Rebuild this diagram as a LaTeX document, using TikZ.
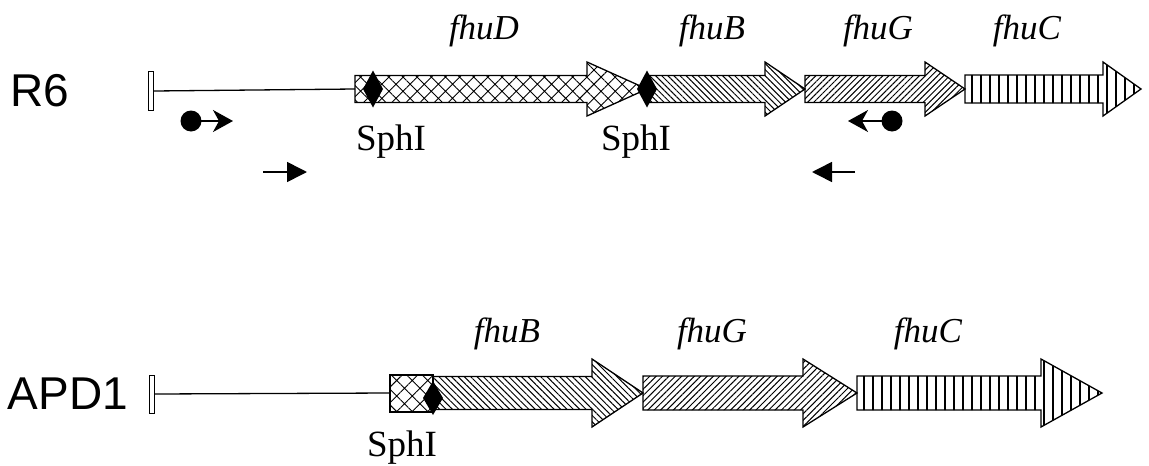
\documentclass[tikz,border=0pt]{standalone}
\usepackage{fontspec}
\setmainfont{Liberation Serif}
\newfontfamily\arialf{Liberation Sans}
\usetikzlibrary{patterns.meta,arrows.meta}
% #1 x start, #2 x head base, #3 x tip, #4 y centre, #5 half body, #6 half head, #7 pattern
\newcommand\genearrow[7]{%
  \draw[geneline,pattern={#7}] (#1,#4-#5) -- (#2,#4-#5) -- (#2,#4-#6) -- (#3,#4)
    -- (#2,#4+#6) -- (#2,#4+#5) -- (#1,#4+#5) -- cycle;}
\newcommand\sitemark[4]{% x, y, half width, half height
  \fill (#1,#2-#4) -- (#1+#3,#2) -- (#1,#2+#4) -- (#1-#3,#2) -- cycle;}
\tikzset{
  geneline/.style={line width=1.3pt, line join=miter},
  strain/.style={font=\arialf\fontsize{46}{50}\selectfont, inner sep=0pt},
  genename/.style={font=\fontsize{35}{38}\selectfont\itshape, inner sep=0pt},
  site/.style={font=\fontsize{37}{40}\selectfont, inner sep=0pt},
  endbar/.style={draw, fill=white, line width=1pt, minimum width=5pt, inner sep=0pt},
  backbone/.style={line width=1.3pt},
  dot/.style={circle, fill, minimum size=21pt, inner sep=0pt},
  primer/.style={line width=1.6pt, -{Stealth[length=20pt,width=22pt,inset=6pt]}},
  primerb/.style={line width=1.6pt, -{Triangle[length=20pt,width=20pt]}},
}
\begin{document}
\begin{tikzpicture}[x=1pt,y=-1pt]
\useasboundingbox (0,0) rectangle (1149,466);

% ---------------- R6 ----------------
\node[strain] (r6) at (40,91) {R6};
\node[endbar, minimum height=39pt] (bar1) at (151,91) {};
\coordinate (d1s) at (355,89);
\draw[backbone] (bar1.east) -- (d1s);
\genearrow{355}{587}{647}{89}{13.5}{27}{Hatch[angle=45,distance=10pt,line width=0.9pt]}
\genearrow{647}{765}{805}{89}{13.5}{27}{Lines[angle=-45,distance=4.3pt,line width=1pt]}
\genearrow{805}{925}{965}{89}{13.5}{27}{Lines[angle=45,distance=4.3pt,line width=1pt]}
\genearrow{965}{1103}{1141}{89}{14}{27}{Lines[angle=90,distance=9pt,line width=1.6pt]}
\sitemark{373}{89}{10}{18.5}
\sitemark{647}{89}{10}{18.5}

\node[genename] (lD) at (484,31) {fhuD};
\node[genename] (lB) at (712,31) {fhuB};
\node[genename] (lG) at (878,31) {fhuG};
\node[genename] (lC) at (1027,31) {fhuC};
\node[site] (s1) at (391,142) {SphI};
\node[site] (s2) at (636,142) {SphI};

\node[dot] (c1) at (191,121) {};
\coordinate (c1e) at (233,121);
\draw[primer] (c1.center) -- (c1e);
\node[dot] (c2) at (892,121) {};
\coordinate (c2e) at (848,121);
\draw[primer] (c2.center) -- (c2e);
\coordinate (p1s) at (263,172);
\coordinate (p1e) at (307,172);
\draw[primerb] (p1s) -- (p1e);
\coordinate (p2s) at (855,172);
\coordinate (p2e) at (812,172);
\draw[primerb] (p2s) -- (p2e);

% ---------------- APD1 ----------------
\node[strain] (apd) at (68,394) {APD1};
\node[endbar, minimum height=38pt] (bar2) at (152,394) {};
\coordinate (bxs) at (390,393);
\draw[backbone] (bar2.east) -- (bxs);
\draw[geneline,pattern={Hatch[angle=45,distance=11pt,line width=0.9pt]}] (390,375) rectangle (433,412);
\genearrow{433}{592}{643}{393}{16.5}{34}{Lines[angle=-45,distance=4.5pt,line width=1pt]}
\genearrow{643}{803}{857}{393}{17}{34}{Lines[angle=45,distance=4.5pt,line width=1pt]}
\genearrow{857}{1041}{1102}{393}{17}{34}{Lines[angle=90,distance=9pt,line width=1.6pt]}
\sitemark{433}{398}{10}{17}

\node[genename] (mB) at (507,334) {fhuB};
\node[genename] (mG) at (712,334) {fhuG};
\node[genename] (mC) at (928,334) {fhuC};
\node[site] (s3) at (402,448) {SphI};
\end{tikzpicture}
\end{document}
